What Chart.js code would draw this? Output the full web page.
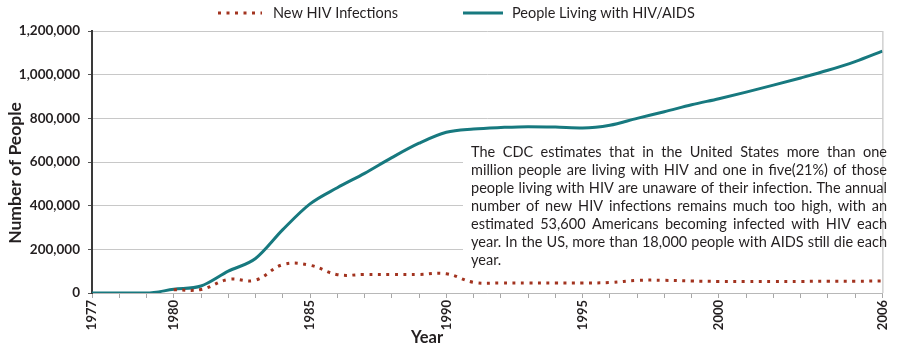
<!DOCTYPE html>
<html>
<head>
<meta charset="utf-8">
<script src="https://cdn.jsdelivr.net/npm/chart.js@4.4.1/dist/chart.umd.min.js"></script>
<style>
  body { margin: 0; background: #fff; }
  #wrap { width: 900px; height: 350px; }
</style>
</head>
<body>
<div id="wrap"><canvas id="hiv" width="900" height="350"></canvas></div>
<script>
const years = ["1977","1978","1979","1980","1981","1982","1983","1984","1985","1986",
  "1987","1988","1989","1990","1991","1992","1993","1994","1995","1996",
  "1997","1998","1999","2000","2001","2002","2003","2004","2005","2006"];
const shownYears = ["1977","1980","1985","1990","1995","2000","2006"];

const livingWithHiv = [0, 0, 0, 17000, 32000, 100000, 158000, 290000, 408000, 482000,
  548000, 620000, 686000, 736000, 751000, 758000, 762000, 760000, 756000, 768000,
  800000, 830000, 862000, 890000, 920000, 952000, 985000, 1020000, 1060000, 1108000];
const newInfections = [null, null, null, 15000, 16000, 62000, 59000, 130000, 127000, 84000,
  85000, 85000, 85000, 88000, 49000, 46000, 46000, 46000, 46000, 48000,
  58000, 58000, 55000, 53000, 53000, 53000, 53000, 54000, 54000, 55000];

const yTicks = [0, 200000, 400000, 600000, 800000, 1000000, 1200000];

const noteLines = [
  "The CDC estimates that in the United States more than one",
  "million people are living with HIV and one in five(21%) of those",
  "people living with HIV are unaware of their infection. The annual",
  "number of new HIV infections remains much too high, with an",
  "estimated 53,600 Americans becoming infected with HIV each",
  "year. In the US, more than 18,000 people with AIDS still die each",
  "year."
];

const ink = "#231f20";
const teal = "#17797f";
const rust = "#a2331f";

// one justified line of the note
function justifyLine(ctx, text, x, y, width, last) {
  if (last) { ctx.fillText(text, x, y); return; }
  const words = text.split(" ");
  const widths = words.map(w => ctx.measureText(w).width);
  const total = widths.reduce((a, b) => a + b, 0);
  let gap = (width - total) / (words.length - 1);
  let sx = 1;
  if (gap < 2.5) {
    gap = 2.5;
    sx = width / (total + gap * (words.length - 1));
  }
  ctx.save();
  ctx.translate(x, y);
  ctx.scale(sx, 1);
  let cx = 0;
  words.forEach((w, i) => {
    ctx.fillText(w, cx, 0);
    cx += widths[i] + gap;
  });
  ctx.restore();
}

const extras = {
  id: "extras",
  beforeDatasetsDraw(chart) {
    const ctx = chart.ctx;
    ctx.save();
    ctx.fillStyle = "#fff";
    ctx.fillRect(463, 140, 427, 133);
    ctx.restore();
  },
  afterDraw(chart) {
    const ctx = chart.ctx;
    const area = chart.chartArea;
    ctx.save();

    // right frame line
    ctx.strokeStyle = "#b8b8b8";
    ctx.lineWidth = 1;
    ctx.beginPath();
    ctx.moveTo(area.right + 0.5, area.top);
    ctx.lineTo(area.right + 0.5, area.bottom);
    ctx.stroke();

    // legend
    const ds = chart.data.datasets;
    const items = [
      { d: ds[0], x0: 218, x1: 262, tx: 273 },
      { d: ds[1], x0: 463, x1: 503, tx: 512 }
    ];
    ctx.font = "14.5px Lato";
    ctx.textBaseline = "middle";
    ctx.fillStyle = ink;
    items.forEach(it => {
      ctx.save();
      ctx.strokeStyle = it.d.borderColor;
      ctx.lineWidth = it.d.borderWidth;
      ctx.setLineDash(it.d.borderDash || []);
      ctx.beginPath();
      ctx.moveTo(it.x0, 13);
      ctx.lineTo(it.x1, 13);
      ctx.stroke();
      ctx.restore();
      ctx.fillText(it.d.label, it.tx, 13);
    });

    // axis titles
    ctx.textAlign = "center";
    ctx.font = "bold 16.5px Lato";
    ctx.fillText("Year", 427, 338);
    ctx.save();
    ctx.font = "bold 17.5px Lato";
    ctx.translate(15, 173);
    ctx.rotate(-Math.PI / 2);
    ctx.fillText("Number of People", 0, 0);
    ctx.restore();

    // note text
    ctx.textAlign = "left";
    ctx.textBaseline = "alphabetic";
    ctx.font = "14.5px Lato";
    noteLines.forEach((line, i) => {
      justifyLine(ctx, line, 471, 157 + i * 18, 416, i === noteLines.length - 1);
    });
    ctx.restore();
  }
};

const ctx = document.getElementById("hiv");
new Chart(ctx, {
  type: "line",
  data: {
    labels: years,
    datasets: [
      {
        label: "New HIV Infections",
        data: newInfections,
        borderColor: rust,
        borderWidth: 3,
        borderDash: [3, 5.5],
        borderCapStyle: "butt",
        pointRadius: 0,
        tension: 0.4,
        fill: false
      },
      {
        label: "People Living with HIV/AIDS",
        data: livingWithHiv,
        borderColor: teal,
        borderWidth: 3,
        pointRadius: 0,
        cubicInterpolationMode: "monotone",
        fill: false
      }
    ]
  },
  options: {
    responsive: false,
    animation: false,
    devicePixelRatio: 1,
    layout: { padding: { top: 31, right: 7, left: 0, bottom: 0 } },
    plugins: {
      legend: { display: false },
      tooltip: { enabled: false }
    },
    scales: {
      x: {
        offset: false,
        afterFit: (s) => { s.height = 57; },
        grid: {
          drawOnChartArea: false,
          tickLength: 5,
          tickColor: "#a8a8a8"
        },
        border: { color: "#b8b8b8", width: 1 },
        ticks: {
          autoSkip: false,
          minRotation: 90,
          maxRotation: 90,
          padding: 2,
          color: ink,
          font: { family: "Lato", weight: "bold", size: 13 },
          callback: function (value) {
            const lbl = this.getLabelForValue(value);
            return shownYears.includes(lbl) ? lbl : "";
          }
        }
      },
      y: {
        min: 0,
        max: 1200000,
        afterFit: (s) => { s.width = 92; },
        afterBuildTicks: (s) => { s.ticks = yTicks.map(v => ({ value: v })); },
        grid: {
          color: "#c8c8c8",
          tickColor: "#555",
          tickLength: 4
        },
        border: { color: "#3a3a3a", width: 2 },
        ticks: {
          padding: 8,
          color: ink,
          font: { family: "Lato", weight: "bold", size: 13.5 },
          callback: (v) => v.toLocaleString("en-US")
        }
      }
    }
  },
  plugins: [extras]
});
</script>
</body>
</html>
